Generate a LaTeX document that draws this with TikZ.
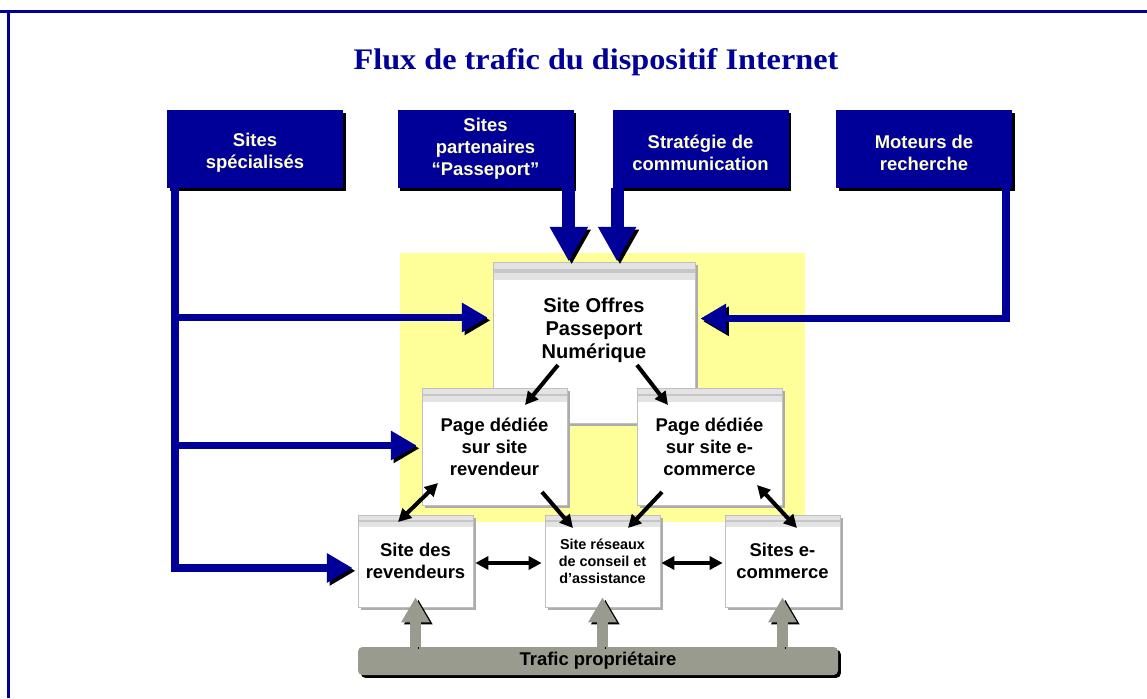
\documentclass[tikz,border=0pt]{standalone}
\usepackage{fontspec}
\setmainfont{Liberation Sans}
\newfontfamily\titlefont{Liberation Serif}
\usetikzlibrary{arrows.meta, calc, shadows, positioning}

\definecolor{navy}{RGB}{0,0,153}
\definecolor{cream}{RGB}{255,255,204}
\definecolor{paleyellow}{RGB}{255,255,153}
\definecolor{ashgray}{RGB}{153,155,143}

\tikzset{
    srcbox/.style={fill=navy, text=cream, inner sep=0pt, align=center,
        minimum width=176*\px, minimum height=78*\px,
        font=\fontsize{10.5}{12.5}\selectfont\bfseries,
        drop shadow={shadow xshift=1.7pt, shadow yshift=-1.7pt, fill=black, opacity=1}},
    window/.style={draw=gray!50, fill=white, inner sep=0pt, align=center,
        font=\fontsize{10.5}{12.5}\selectfont\bfseries,
        drop shadow={shadow xshift=1.6pt, shadow yshift=-1.6pt, fill=gray!65, opacity=1},
        path picture={
            \fill[gray!22] (path picture bounding box.north west) rectangle ([yshift=-#1]path picture bounding box.north east);
            \fill[gray!45] ([yshift=-0.4*#1]path picture bounding box.north west) rectangle ([yshift=-0.6*#1]path picture bounding box.north east);
        }},
    window/.default=8pt,
    trafficbar/.style={fill=ashgray, rounded corners=2.5pt, inner sep=0pt,
        minimum width=480*\px, minimum height=28*\px,
        font=\fontsize{10.5}{12.5}\selectfont\bfseries,
        drop shadow={shadow xshift=1.6pt, shadow yshift=-1.6pt, fill=black, opacity=1}},
    bluearrow/.style={draw=navy, line width=4.5pt,
        -{Triangle[length=14.7pt, width=15.9pt]},
        preaction={draw=black, transform canvas={shift={(1.6pt,-1.6pt)}}}},
    fatdown/.style={draw=navy, line width=7.4pt,
        -{Triangle[length=19.8pt, width=20.4pt]},
        preaction={draw=black, transform canvas={shift={(1.6pt,-1.6pt)}}}},
    grayup/.style={draw=ashgray, line width=5.7pt,
        -{Triangle[length=14.2pt, width=15.3pt]},
        preaction={draw=black, transform canvas={shift={(1.6pt,-1.2pt)}}}},
    link/.style={draw=black, line width=2.3pt, -{Triangle[length=7.4pt, width=7.4pt]}},
    twolink/.style={draw=black, line width=2.3pt, {Triangle[length=7.4pt, width=7.4pt]}-{Triangle[length=7.4pt, width=7.4pt]}}
}

\begin{document}
\begin{tikzpicture}[x=0.02cm, y=-0.02cm]
    \def\px{0.02cm}
    \useasboundingbox (0,0) rectangle (1147,698);
    % frame
    \draw[navy, line width=1.7pt] (0,11.5) -- (1147,11.5);
    \draw[navy, line width=1.7pt] (8.5,10) -- (8.5,698);
    \node[inner sep=0pt] (title) at (596,62)
        {\titlefont\fontsize{17}{20}\selectfont\bfseries\color{navy}\scalebox{1.08}[1]{Flux de trafic du dispositif Internet}};
    \fill[paleyellow] (400,253) rectangle (805,522);
    % sources
    \node[srcbox] (spec) at (255,149) {\rule{0pt}{12pt}Sites\\spécialisés};
    \node[srcbox] (part) at (485.5,149) {Sites\\partenaires\\“Passeport”};
    \node[srcbox] (strat) at (700.5,149) {\rule{0pt}{12pt}Stratégie de\\communication};
    \node[srcbox] (moteur) at (924,149) {\rule{0pt}{12pt}Moteurs de\\recherche};
    % sites
    \node[window=10pt, minimum width=202*\px, minimum height=161*\px, text depth=16pt,
        font=\fontsize{11.4}{13.2}\selectfont\bfseries] (offres) at (594,342.5) {Site Offres\\Passeport\\Numérique};
    \node[window, minimum width=145*\px, minimum height=117*\px] (pageR) at (494.5,446.5) {Page dédiée\\sur site\\revendeur};
    \node[window, minimum width=145*\px, minimum height=117*\px] (pageC) at (709.5,446.5) {Page dédiée\\sur site e-\\commerce};
    \node[window=7pt, minimum width=115*\px, minimum height=92*\px] (revD) at (415.5,561) {Site des\\revendeurs};
    \node[window=7pt, minimum width=115*\px, minimum height=92*\px, font=\fontsize{8.2}{9.7}\selectfont\bfseries] (reseau) at (602.5,561) {Site réseaux\\de conseil et\\d’assistance};
    \node[window=7pt, minimum width=115*\px, minimum height=92*\px] (ecom) at (782.5,561) {Sites e-\\commerce};
    \node[trafficbar] (traffic) at (598,661) {Trafic propriétaire};
    % blue flows
    \coordinate (trunk) at ($(spec.south west)+(8,0)$);
    \coordinate (hA) at ($(offres.west)+(-5,-25)$);
    \coordinate (hB) at ($(pageR.west)+(-5,-1)$);
    \coordinate (hD) at ($(revD.west)+(-5,7)$);
    \draw[bluearrow] (trunk) |- (hD);
    \draw[bluearrow] (trunk |- hA) -- (hA);
    \draw[bluearrow] (trunk |- hB) -- (hB);
    \draw[bluearrow] ($(moteur.south east)+(-6,0)$) |- ($(offres.east)+(5,-24)$);
    \coordinate (pd) at ($(part.south east)+(-5,0)$);
    \coordinate (sd) at ($(strat.south west)+(5,0)$);
    \draw[fatdown] (pd) -- (pd |- offres.north);
    \draw[fatdown] (sd) -- (sd |- offres.north);
    % links between sites
    \draw[link] ($(offres)+(-36,22.5)$) -- ($(pageR)+(30.5,-41.5)$);
    \draw[link] ($(offres)+(43,22.5)$) -- ($(pageC)+(-41.5,-41.5)$);
    \draw[twolink] ($(pageR)+(-56.5,36.5)$) -- ($(revD)+(-17.5,-39)$);
    \draw[link] ($(pageR)+(47.5,45.5)$) -- ($(reseau)+(-29.5,-33)$);
    \draw[link] ($(pageC)+(-47.5,45.5)$) -- ($(reseau)+(25.5,-33)$);
    \draw[twolink] ($(pageC)+(47.5,38.5)$) -- ($(ecom)+(14.5,-33)$);
    \draw[twolink] ($(revD.east)+(2,2)$) -- ($(reseau.west)+(-3,2)$);
    \draw[twolink] ($(reseau.east)+(1,2)$) -- ($(ecom.west)+(-2,2)$);
    % own traffic
    \draw[grayup] (revD |- traffic.north) -- ($(revD.south)+(0,-10)$);
    \draw[grayup] (reseau |- traffic.north) -- ($(reseau.south)+(0,-10)$);
    \draw[grayup] (ecom |- traffic.north) -- ($(ecom.south)+(0,-10)$);
\end{tikzpicture}
\end{document}
